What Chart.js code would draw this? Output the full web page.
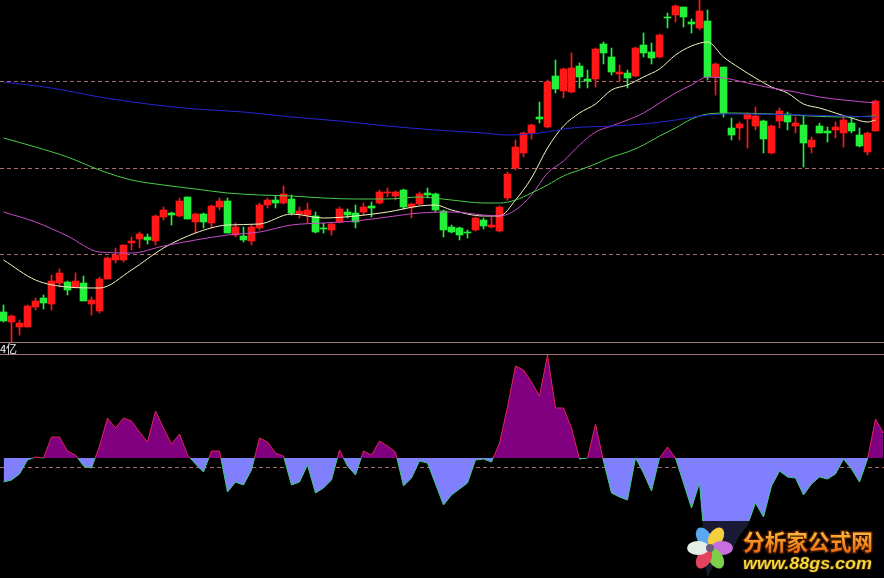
<!DOCTYPE html>
<html>
<head>
<meta charset="utf-8">
<script src="https://cdn.jsdelivr.net/npm/chart.js@4.4.1/dist/chart.umd.min.js"></script>
<style>
  html, body { margin: 0; padding: 0; background: #000; width: 884px; height: 578px; overflow: hidden; }
  #wrap { position: relative; width: 884px; height: 578px; }
  #kline { position: absolute; left: 0; top: 0; }
  #sep {
    position: absolute; left: 0; top: 342px; width: 884px; height: 11px;
    border-top: 1px solid #a07878; border-bottom: 1px solid #a07878;
    color: #fff; font: 11px "Noto Sans CJK SC", sans-serif; line-height: 11px;
  }
  #osc { position: absolute; left: 0; top: 355px; }
</style>
</head>
<body>
<div id="wrap">
  <canvas id="kline" width="884" height="342"></canvas>
  <div id="sep">4亿</div>
  <canvas id="osc" width="884" height="223"></canvas>
</div>
<script>
/**
 * Daily candles (price)
 */
const opens = [
  10.31, 10.21, 10.16, 10.16, 10.36, 10.45, 10.39, 10.60, 10.61, 10.56,
  10.60, 10.39, 10.32, 10.64, 10.83, 10.83, 11.00, 11.04, 11.06, 11.02,
  11.26, 11.30, 11.27, 11.46, 11.21, 11.29, 11.20, 11.36, 11.42, 11.08,
  11.07, 11.02, 11.15, 11.38, 11.43, 11.40, 11.44, 11.29, 11.28, 11.27,
  11.15, 11.13, 11.21, 11.31, 11.30, 11.31, 11.37, 11.40, 11.50, 11.47,
  11.53, 11.36, 11.39, 11.50, 11.49, 11.32, 11.16, 11.15, 11.11, 11.13,
  11.23, 11.16, 11.12, 11.45, 11.75, 11.90, 12.10, 12.26, 12.16, 12.67,
  12.52, 12.51, 12.77, 12.64, 12.64, 12.99, 12.86, 12.69, 12.70, 12.67,
  12.98, 12.91, 12.86, 13.26, 13.28, 13.36, 13.21, 13.15, 13.22, 12.66,
  12.76, 12.15, 12.15, 12.24, 12.17, 12.22, 11.90, 12.22, 12.29, 12.17,
  12.18, 11.96, 12.17, 12.12, 12.13, 12.10, 12.20, 12.08, 11.91, 12.12
];
const closes = [
  10.22, 10.27, 10.20, 10.37, 10.42, 10.40, 10.62, 10.70, 10.53, 10.62,
  10.42, 10.43, 10.64, 10.85, 10.88, 10.98, 11.02, 11.09, 11.03, 11.27,
  11.33, 11.28, 11.42, 11.24, 11.29, 11.21, 11.37, 11.42, 11.10, 11.16,
  11.03, 11.16, 11.38, 11.43, 11.40, 11.49, 11.30, 11.32, 11.33, 11.11,
  11.14, 11.19, 11.34, 11.28, 11.21, 11.36, 11.35, 11.51, 11.51, 11.51,
  11.36, 11.39, 11.49, 11.48, 11.33, 11.13, 11.11, 11.08, 11.10, 11.25,
  11.17, 11.18, 11.36, 11.69, 11.96, 12.10, 12.18, 12.24, 12.61, 12.54,
  12.74, 12.75, 12.66, 12.62, 12.94, 12.90, 12.71, 12.71, 12.65, 12.95,
  12.90, 12.85, 13.08, 13.25, 13.37, 13.26, 13.19, 13.32, 12.66, 12.79,
  12.30, 12.08, 12.19, 12.29, 12.27, 12.04, 12.17, 12.32, 12.21, 12.20,
  12.00, 12.03, 12.10, 12.10, 12.16, 12.23, 12.12, 11.97, 12.10, 12.42
];
const highs = [
  10.38, 10.28, 10.23, 10.38, 10.45, 10.48, 10.68, 10.74, 10.62, 10.70,
  10.67, 10.46, 10.66, 10.86, 10.95, 10.98, 11.06, 11.11, 11.09, 11.28,
  11.36, 11.31, 11.45, 11.46, 11.30, 11.30, 11.38, 11.45, 11.45, 11.20,
  11.16, 11.18, 11.40, 11.45, 11.47, 11.57, 11.48, 11.36, 11.40, 11.31,
  11.20, 11.20, 11.36, 11.34, 11.38, 11.40, 11.41, 11.53, 11.55, 11.52,
  11.54, 11.40, 11.51, 11.55, 11.50, 11.33, 11.18, 11.16, 11.13, 11.26,
  11.25, 11.26, 11.37, 11.71, 12.03, 12.11, 12.19, 12.41, 12.63, 12.83,
  12.75, 12.90, 12.80, 12.73, 12.95, 13.01, 12.95, 12.78, 12.73, 12.96,
  13.10, 13.00, 13.09, 13.30, 13.38, 13.36, 13.24, 13.45, 13.33, 12.80,
  12.76, 12.25, 12.21, 12.30, 12.36, 12.23, 12.18, 12.35, 12.31, 12.26,
  12.27, 12.06, 12.20, 12.16, 12.21, 12.26, 12.25, 12.15, 12.11, 12.43
];
const lows = [
  10.21, 10.01, 10.08, 10.16, 10.33, 10.34, 10.33, 10.56, 10.48, 10.55,
  10.42, 10.28, 10.30, 10.64, 10.80, 10.81, 10.93, 10.95, 10.99, 10.98,
  11.23, 11.18, 11.26, 11.24, 11.10, 11.15, 11.15, 11.33, 11.10, 11.06,
  11.01, 10.98, 11.13, 11.35, 11.35, 11.39, 11.28, 11.25, 11.20, 11.10,
  11.10, 11.08, 11.20, 11.25, 11.15, 11.28, 11.26, 11.39, 11.46, 11.43,
  11.34, 11.25, 11.38, 11.45, 11.31, 11.06, 11.10, 11.03, 11.05, 11.12,
  11.14, 11.15, 11.11, 11.43, 11.73, 11.86, 12.04, 12.20, 12.15, 12.50,
  12.45, 12.50, 12.55, 12.55, 12.56, 12.79, 12.68, 12.61, 12.55, 12.66,
  12.86, 12.79, 12.85, 13.15, 13.21, 13.16, 13.10, 13.13, 12.63, 12.48,
  12.26, 12.03, 12.03, 11.95, 12.13, 11.90, 11.89, 12.15, 12.13, 12.10,
  11.76, 11.90, 12.10, 12.01, 12.05, 11.96, 12.10, 11.96, 11.88, 12.12
];

/**
 * Moving averages, read at sampled candle indices
 */
const ma5Idx = [0, 4, 8, 12, 16, 20, 24, 28, 32, 36, 40, 44, 48, 52, 54, 56, 60, 62, 64, 66, 68,
  70, 72, 74, 76, 78, 80, 82, 84, 86, 88, 90, 92, 94, 96, 98, 100, 102, 104, 106, 108, 109];
const ma5Val = [10.83, 10.63, 10.56, 10.55, 10.73, 10.95, 11.10, 11.18, 11.19, 11.29, 11.25, 11.27,
  11.31, 11.37, 11.38, 11.33, 11.27, 11.27, 11.43, 11.65, 11.95, 12.17, 12.30, 12.39, 12.53, 12.58,
  12.66, 12.74, 12.88, 12.97, 13.01, 12.86, 12.75, 12.65, 12.56, 12.50, 12.39, 12.35, 12.30, 12.25,
  12.21, 12.23];

const ma10Idx = [0, 4, 8, 12, 16, 20, 24, 28, 32, 36, 40, 44, 48, 52, 56, 60, 62, 64, 66, 68,
  70, 72, 74, 76, 78, 80, 82, 84, 86, 88, 90, 93, 96, 99, 102, 105, 109];
const ma10Val = [11.31, 11.21, 11.07, 10.91, 10.90, 10.97, 11.03, 11.08, 11.11, 11.18, 11.20, 11.22,
  11.26, 11.30, 11.31, 11.28, 11.27, 11.33, 11.48, 11.70, 11.82, 11.98, 12.11, 12.17, 12.23, 12.30,
  12.40, 12.50, 12.58, 12.66, 12.65, 12.60, 12.55, 12.51, 12.46, 12.43, 12.40];

const ma30Idx = [0, 4, 8, 12, 16, 20, 24, 28, 32, 36, 40, 44, 48, 52, 56, 60, 62, 64, 66, 68,
  70, 72, 74, 76, 78, 80, 82, 84, 86, 88, 91, 96, 101, 105, 109];
const ma30Val = [12.05, 11.96, 11.86, 11.73, 11.63, 11.58, 11.54, 11.50, 11.48, 11.47, 11.45, 11.44,
  11.44, 11.46, 11.43, 11.40, 11.40, 11.43, 11.50, 11.58, 11.67, 11.73, 11.79, 11.86, 11.91, 11.98,
  12.07, 12.15, 12.24, 12.29, 12.30, 12.29, 12.27, 12.26, 12.27];

const ma120Idx = [0, 6, 12, 18, 24, 30, 36, 42, 48, 54, 60, 63, 67, 71, 76, 80, 84, 88, 92, 100, 105, 109];
const ma120Val = [12.61, 12.55, 12.46, 12.39, 12.34, 12.31, 12.26, 12.22, 12.17, 12.13, 12.10, 12.08,
  12.10, 12.15, 12.17, 12.19, 12.23, 12.28, 12.29, 12.28, 12.27, 12.26];

/**
 * Lower oscillator, one value per bar
 */
const oscVal = [
  -0.24, -0.22, -0.16, -0.02, 0.01, 0.00, 0.21, 0.21, 0.07, 0.03,
  -0.08, -0.10, 0.12, 0.40, 0.30, 0.40, 0.37, 0.26, 0.16, 0.47,
  0.30, 0.14, 0.24, 0.03, -0.06, -0.14, 0.07, 0.07, -0.34, -0.24,
  -0.27, -0.12, 0.20, 0.16, 0.05, 0.02, -0.27, -0.24, -0.07, -0.35,
  -0.30, -0.22, 0.08, -0.08, -0.17, 0.07, 0.03, 0.17, 0.12, 0.06,
  -0.28, -0.20, -0.03, -0.05, -0.26, -0.47, -0.37, -0.31, -0.25, -0.02,
  -0.01, -0.04, 0.15, 0.51, 0.92, 0.88, 0.76, 0.62, 1.03, 0.50,
  0.50, 0.30, -0.01, 0.00, 0.34, -0.03, -0.35, -0.39, -0.42, 0.00,
  -0.15, -0.33, 0.00, 0.11, 0.00, -0.25, -0.50, -0.25, -1.18, -1.02,
  -0.97, -0.92, -0.77, -0.67, -0.45, -0.59, -0.28, -0.13, -0.19, -0.20,
  -0.37, -0.26, -0.19, -0.21, -0.16, -0.01, -0.11, -0.24, -0.01, 0.39,
  0.25
];

const priceGrid = [10.88, 11.75, 12.62];
const oscGrid = [-0.09];

const colors = {
  up: "#ff1818",
  down: "#22f03a",
  ma5: "#f4f4c4",
  ma10: "#c84cc8",
  ma30: "#4ccc4c",
  ma120: "#2626d2",
  grid: "#a86a6a",
  oscUp: "#800080",
  oscDown: "#8080ff",
  oscUpLine: "#e0205a",
  oscDownLine: "#40c888"
};

// shared x window so both panels line up bar for bar
const xScale = { type: "linear", min: -0.4375, max: 110.0625, offset: false, display: false };

function hiddenY(min, max, levels) {
  return {
    min, max,
    afterFit: s => { s.width = 0; },
    afterBuildTicks: s => { s.ticks = levels.map(v => ({ value: v })); },
    ticks: { display: false },
    border: { display: false, dash: [4, 3] },
    grid: { color: colors.grid, drawTicks: false, lineWidth: 1 }
  };
}

function maLine(idx, vals, color) {
  return {
    type: "line",
    data: idx.map((x, k) => ({ x, y: vals[k] })),
    borderColor: color,
    borderWidth: 1,
    pointRadius: 0,
    cubicInterpolationMode: "monotone",
    order: 0
  };
}

const candleColor = opens.map((o, i) => closes[i] >= o ? colors.up : colors.down);

new Chart(document.getElementById("kline"), {
  type: "bar",
  data: {
    datasets: [
      maLine(ma120Idx, ma120Val, colors.ma120),
      maLine(ma30Idx, ma30Val, colors.ma30),
      maLine(ma10Idx, ma10Val, colors.ma10),
      maLine(ma5Idx, ma5Val, colors.ma5),
      {
        data: opens.map((o, i) => ({ x: i, y: [o, closes[i]] })),
        backgroundColor: candleColor,
        barThickness: 7,
        grouped: false,
        borderWidth: 0,
        order: 1
      },
      {
        data: opens.map((o, i) => ({ x: i, y: [lows[i], highs[i]] })),
        backgroundColor: candleColor,
        barThickness: 1,
        grouped: false,
        borderWidth: 0,
        order: 2
      }
    ]
  },
  options: {
    responsive: false,
    animation: false,
    devicePixelRatio: 1,
    layout: { padding: 0 },
    plugins: { legend: { display: false }, tooltip: { enabled: false } },
    scales: {
      x: xScale,
      y: hiddenY(10.01, 13.43, priceGrid)
    }
  }
});

/**
 * Line colour switches at the zero level
 */
function zeroSplit(chart) {
  const area = chart.chartArea;
  if (!area) return colors.oscDownLine;
  const z = chart.scales.y.getPixelForValue(0);
  const f = Math.min(1, Math.max(0, (z - area.top) / (area.bottom - area.top)));
  const g = chart.ctx.createLinearGradient(0, area.top, 0, area.bottom);
  g.addColorStop(0, colors.oscUpLine);
  g.addColorStop(f, colors.oscUpLine);
  g.addColorStop(f, colors.oscDownLine);
  g.addColorStop(1, colors.oscDownLine);
  return g;
}

/**
 * Site watermark in the bottom right corner
 */
const watermark = {
  id: "watermark",
  afterDraw(chart) {
    const ctx = chart.ctx;
    ctx.save();
    // dark veil: invisible on black, dims the fill behind the logo
    ctx.fillStyle = "rgba(0,0,4,0.8)";
    ctx.fillRect(683, 166, 201, 57);

    // flower logo
    const cx = 710, cy = 193;
    const petals = [
      [-120, "#5aa8f2"], [-60, "#f6cf3c"], [0, "#c86ee0"],
      [60, "#7ccf46"], [120, "#e2445e"], [180, "#e6ece6"]
    ];
    petals.forEach(([a, c]) => {
      const r = a * Math.PI / 180;
      ctx.beginPath();
      ctx.ellipse(cx + Math.cos(r) * 12, cy + Math.sin(r) * 12, 11, 7, r, 0, Math.PI * 2);
      ctx.fillStyle = c;
      ctx.fill();
    });
    ctx.beginPath();
    ctx.arc(cx, cy, 4, 0, Math.PI * 2);
    ctx.fillStyle = "#6a5a7a";
    ctx.fill();

    // site name
    ctx.font = "bold 22px 'Noto Sans CJK SC'";
    ctx.textBaseline = "alphabetic";
    const name = "分析家公式网";
    const w1 = ctx.measureText(name).width;
    ctx.save();
    ctx.translate(743, 195);
    ctx.scale(130 / w1, 1);
    const g = ctx.createLinearGradient(0, -20, 0, 2);
    g.addColorStop(0, "#ffc040");
    g.addColorStop(1, "#e86a10");
    ctx.lineWidth = 3;
    ctx.strokeStyle = "#3a1400";
    ctx.strokeText(name, 0, 0);
    ctx.fillStyle = g;
    ctx.fillText(name, 0, 0);
    ctx.restore();

    ctx.font = "italic bold 16px 'Liberation Sans'";
    const url = "www.88gs.com";
    const w2 = ctx.measureText(url).width;
    ctx.save();
    ctx.translate(743, 214);
    ctx.scale(129 / w2, 1);
    ctx.lineWidth = 2;
    ctx.strokeStyle = "#2a1a00";
    ctx.strokeText(url, 0, 0);
    ctx.fillStyle = "#f6d63a";
    ctx.fillText(url, 0, 0);
    ctx.restore();
    ctx.restore();
  }
};

new Chart(document.getElementById("osc"), {
  type: "line",
  data: {
    datasets: [{
      data: oscVal.map((v, i) => ({ x: i, y: v })),
      borderWidth: 1,
      pointRadius: 0,
      tension: 0,
      borderColor: ctx => zeroSplit(ctx.chart),
      fill: { target: { value: 0 }, above: colors.oscUp, below: colors.oscDown }
    }]
  },
  options: {
    responsive: false,
    animation: false,
    devicePixelRatio: 1,
    layout: { padding: 0 },
    plugins: { legend: { display: false }, tooltip: { enabled: false } },
    scales: {
      x: xScale,
      y: hiddenY(-1.20, 1.03, oscGrid)
    }
  },
  plugins: [watermark]
});
</script>
</body>
</html>
